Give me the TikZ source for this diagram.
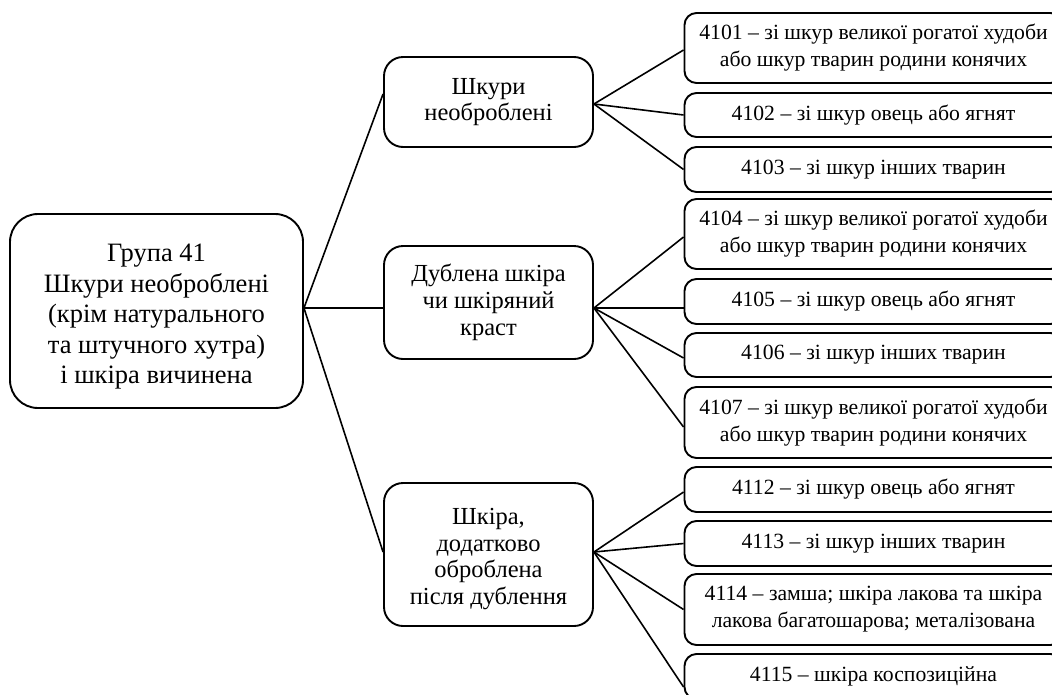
\documentclass[tikz,border=0pt]{standalone}
\usepackage{fontspec}
\setmainfont{Liberation Serif}
\begin{document}
\begin{tikzpicture}[x=1pt,y=-1pt,
  box/.style={draw=black,line width=1.9pt,align=center,inner sep=0pt},
  mainbox/.style={box,rounded corners=28pt,minimum width=293pt,minimum height=194pt},
  maintext/.style={align=center,inner sep=0pt,font=\fontsize{26.5}{30.5}\selectfont},
  midbox/.style={box,rounded corners=19pt,minimum width=209pt,font=\fontsize{24.5}{26.8}\selectfont},
  midtext/.style={align=center,inner sep=0pt,font=\fontsize{24.5}{26.8}\selectfont},
  leafbox/.style={box,rounded corners=12pt,minimum width=378pt,font=\fontsize{21.7}{27}\selectfont},
  link/.style={draw=black,line width=1.6pt}]
\useasboundingbox (0,0) rectangle (1052,694);
\clip (0,0) rectangle (1052,694);
% main
\node[mainbox] (main) at (156.5,311) {};
\node[maintext] (mainT) at ([yshift=-6pt]main.center) {Група 41\\Шкури необроблені\\(крім натурального\\та штучного хутра)\\і шкіра вичинена};
% middle column
\node[midbox,minimum height=90pt] (m1) at (488.5,102) {Шкури\\необроблені};
\node[midbox,minimum height=113pt] (m2) at (488.5,302.5) {Дублена шкіра\\чи шкіряний\\краст};
\node[midbox,minimum height=143pt] (m3) at (488.5,554.5) {};
\node[midtext] (m3T) at ([yshift=-4.5pt]m3.center) {Шкіра,\\додатково\\оброблена\\після дублення};
% leaves
\node[leafbox,minimum height=70pt] (r1) at (873.5,48) {4101 – зі шкур великої рогатої худоби\\або шкур тварин родини конячих};
\node[leafbox,minimum height=44pt] (r2) at (873.5,115) {4102 – зі шкур овець або ягнят};
\node[leafbox,minimum height=45pt] (r3) at (873.5,169.5) {4103 – зі шкур інших тварин};
\node[leafbox,minimum height=70pt] (r4) at (873.5,234) {4104 – зі шкур великої рогатої худоби\\або шкур тварин родини конячих};
\node[leafbox,minimum height=45pt] (r5) at (873.5,301.5) {4105 – зі шкур овець або ягнят};
\node[leafbox,minimum height=44pt] (r6) at (873.5,355) {4106 – зі шкур інших тварин};
\node[leafbox,minimum height=71pt] (r7) at (873.5,422.5) {4107 – зі шкур великої рогатої худоби\\або шкур тварин родини конячих};
\node[leafbox,minimum height=45pt] (r8) at (873.5,489.5) {4112 – зі шкур овець або ягнят};
\node[leafbox,minimum height=45pt] (r9) at (873.5,543.5) {4113 – зі шкур інших тварин};
\node[leafbox,minimum height=71pt] (r10) at (873.5,609.5) {4114 – замша; шкіра лакова та шкіра\\лакова багатошарова; металізована};
\node[leafbox,minimum height=45pt] (r11) at (873.5,676.5) {4115 – шкіра коспозиційна};
% connectors
\path[link] ([yshift=3pt]main.east) -- ([yshift=8pt]m1.west);
\path[link] ([yshift=3pt]main.east) -- ([yshift=-5.5pt]m2.west);
\path[link] ([yshift=3pt]main.east) -- ([yshift=2.5pt]m3.west);
\path[link] ([yshift=-2pt]m1.east) -- ([yshift=-2pt]r1.west);
\path[link] ([yshift=-2pt]m1.east) -- (r2.west);
\path[link] ([yshift=-2pt]m1.east) -- (r3.west);
\path[link] ([yshift=-5.5pt]m2.east) -- ([yshift=-3pt]r4.west);
\path[link] ([yshift=-5.5pt]m2.east) -- ([yshift=-6.5pt]r5.west);
\path[link] ([yshift=-5.5pt]m2.east) -- ([yshift=-3pt]r6.west);
\path[link] ([yshift=-5.5pt]m2.east) -- ([yshift=-4.5pt]r7.west);
\path[link] ([yshift=2.5pt]m3.east) -- ([yshift=-2.5pt]r8.west);
\path[link] ([yshift=2.5pt]m3.east) -- (r9.west);
\path[link] ([yshift=2.5pt]m3.east) -- (r10.west);
\path[link] ([yshift=2.5pt]m3.east) -- ([yshift=-10.5pt]r11.west);
\end{tikzpicture}
\end{document}
